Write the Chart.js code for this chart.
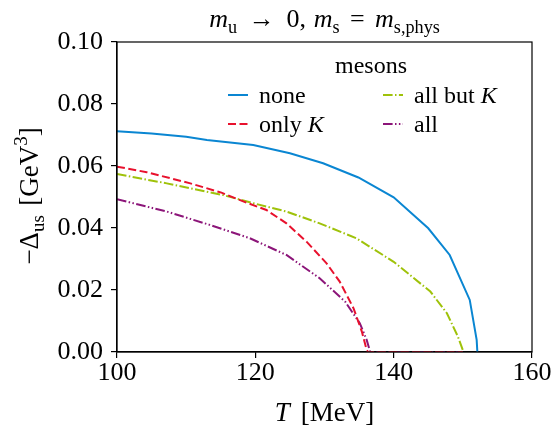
<!DOCTYPE html>
<html>
<head>
<meta charset="utf-8">
<script src="https://cdn.jsdelivr.net/npm/chart.js@4"></script>
<style>
  html, body { margin: 0; padding: 0; background: #fff; }
  #wrap { width: 553px; height: 431px; }
</style>
</head>
<body>
<div id="wrap"><canvas id="myChart" width="553" height="431"></canvas></div>
<script>
const FONT = "'Liberation Serif', serif";

// temperatures (MeV) and -Delta_us (GeV^3)
const T_NONE = [100, 105, 110, 113, 119.7, 125, 129.8, 134.9, 140, 145, 148.1, 151, 152, 152.1];
const V_NONE = [0.0712, 0.0705, 0.0694, 0.0684, 0.0668, 0.0641, 0.0609, 0.0563, 0.0499, 0.0399, 0.0313, 0.0168, 0.0039, 0.0];

const T_ONLYK = [100, 104.3, 110.6, 115.1, 118.7, 121.6, 124.5, 127.4, 130.3, 132.2, 134.2, 135.4, 136.1, 136.3, 150];
const V_ONLYK = [0.0598, 0.0580, 0.0544, 0.0514, 0.0482, 0.0458, 0.0415, 0.0356, 0.0286, 0.0227, 0.0141, 0.0066, 0.0006, 0.0, 0.0];

const T_ALLBUTK = [100, 107.2, 115.4, 119.7, 124.5, 129.3, 134.6, 140, 145.3, 147.7, 149.3, 150, 150.1];
const V_ALLBUTK = [0.0574, 0.0544, 0.0506, 0.0480, 0.0453, 0.0415, 0.0367, 0.0291, 0.0195, 0.0125, 0.0049, 0.0006, 0.0];

const T_ALL = [100, 107.2, 113.4, 119.2, 124.5, 129.3, 133, 135.1, 136.1, 136.6, 150];
const V_ALL = [0.0493, 0.0453, 0.0410, 0.0367, 0.0313, 0.0238, 0.0162, 0.0093, 0.0039, 0.0, 0.0];

const X_TICKS = [100, 120, 140, 160];
const Y_TICKS = [0.00, 0.02, 0.04, 0.06, 0.08, 0.10];

function pts(xs, ys) { return xs.map((x, i) => ({x: x, y: ys[i]})); }

const series = [
  {label: 'none',      parts: [{t: 'none'}],                          xs: T_NONE,    ys: V_NONE,    color: '#0a86d2', dash: []},
  {label: 'only K',    parts: [{t: 'only '}, {t: 'K', it: true}],      xs: T_ONLYK,   ys: V_ONLYK,   color: '#e8112d', dash: [8, 3.5]},
  {label: 'all but K', parts: [{t: 'all but '}, {t: 'K', it: true}],   xs: T_ALLBUTK, ys: V_ALLBUTK, color: '#9fc20a', dash: [9.6, 2.4, 1.5, 2.4]},
  {label: 'all',       parts: [{t: 'all'}],                           xs: T_ALL,     ys: V_ALL,     color: '#8c1579', dash: [9.6, 2.4, 1.5, 2.4, 1.5, 2.4]}
];

// rich text helper: parts {t, it, sub, sup, gap}
function setFont(ctx, p, size) {
  const s = (p.sub || p.sup) ? size * 0.7 : size;
  ctx.font = (p.it ? 'italic ' : '') + s + 'px ' + FONT;
  return s;
}
function partWidth(ctx, p, size) {
  setFont(ctx, p, size);
  return ctx.measureText(p.t).width + (p.gap || 0) * size;
}
function drawRich(ctx, parts, x, y, size, align) {
  let w = 0;
  parts.forEach(p => { w += partWidth(ctx, p, size); });
  let cx = align === 'center' ? x - w / 2 : x;
  ctx.textBaseline = 'alphabetic';
  ctx.textAlign = 'left';
  ctx.fillStyle = '#000';
  parts.forEach(p => {
    setFont(ctx, p, size);
    let dy = p.sub ? size * 0.22 : (p.sup ? -size * 0.4 : 0);
    ctx.fillText(p.t, cx, y + dy);
    cx += partWidth(ctx, p, size);
  });
}

const decor = {
  id: 'decor',
  afterDraw(chart) {
    const ctx = chart.ctx;
    const a = chart.chartArea;
    ctx.save();
    // frame
    ctx.strokeStyle = '#000';
    ctx.lineWidth = 1.2;
    ctx.strokeRect(a.left, a.top, a.right - a.left, a.bottom - a.top);

    // title
    drawRich(ctx, [
      {t: 'm', it: true}, {t: 'u', sub: true, gap: 0.45}, {t: '\u2192', gap: 0.45}, {t: '0,', gap: 0.3},
      {t: 'm', it: true}, {t: 's', sub: true, gap: 0.4}, {t: '=', gap: 0.4},
      {t: 'm', it: true}, {t: 's,phys', sub: true}
    ], (a.left + a.right) / 2, 27, 26, 'center');

    // axis titles
    drawRich(ctx, [{t: 'T', it: true, gap: 0.15}, {t: ' [MeV]'}], (a.left + a.right) / 2, 421, 27, 'center');
    ctx.save();
    ctx.translate(38, 196);
    ctx.rotate(-Math.PI / 2);
    drawRich(ctx, [{t: '\u2212\u0394'}, {t: 'us', sub: true, gap: 0.1}, {t: ' [GeV'}, {t: '3', sup: true}, {t: ']'}], 0, 0, 27, 'center');
    ctx.restore();

    // legend
    drawRich(ctx, [{t: 'mesons'}], 371, 73, 24, 'center');
    const cols = [228, 383];
    const rows = [103, 132];
    series.forEach((s, i) => {
      const x = cols[Math.floor(i / 2)];
      const y = rows[i % 2];
      ctx.save();
      ctx.strokeStyle = s.color;
      ctx.lineWidth = 2;
      ctx.setLineDash(s.dash);
      ctx.beginPath();
      ctx.moveTo(x, y - 8);
      ctx.lineTo(x + 20, y - 8);
      ctx.stroke();
      ctx.restore();
      drawRich(ctx, s.parts, x + 31, y, 24, 'left');
    });
    ctx.restore();
  }
};

const ctx = document.getElementById('myChart').getContext('2d');
const myChart = new Chart(ctx, {
  type: 'line',
  data: {
    datasets: series.map(s => ({
      label: s.label,
      data: pts(s.xs, s.ys),
      borderColor: s.color,
      backgroundColor: s.color,
      borderWidth: 2,
      borderDash: s.dash,
      pointRadius: 0,
      tension: 0,
      fill: false
    }))
  },
  options: {
    responsive: false,
    animation: false,
    layout: {padding: {top: 42, right: 21, left: 0, bottom: 0}},
    plugins: {legend: {display: false}, tooltip: {enabled: false}},
    scales: {
      x: {
        type: 'linear',
        min: 100, max: 160,
        afterFit(scale) { scale.height = 79; },
        afterBuildTicks(scale) { scale.ticks = X_TICKS.map(v => ({value: v})); },
        grid: {drawOnChartArea: false, drawTicks: true, tickLength: 6, color: '#000', lineWidth: 1.2},
        border: {display: true, color: '#000', width: 1.2},
        ticks: {color: '#000', font: {family: FONT, size: 26}, padding: 0, maxRotation: 0}
      },
      y: {
        type: 'linear',
        min: 0, max: 0.1,
        afterFit(scale) { scale.width = 117; },
        afterBuildTicks(scale) { scale.ticks = Y_TICKS.map(v => ({value: v})); },
        grid: {drawOnChartArea: false, drawTicks: true, tickLength: 6, color: '#000', lineWidth: 1.2},
        border: {display: true, color: '#000', width: 1.2},
        ticks: {color: '#000', font: {family: FONT, size: 26}, padding: 8, callback: v => v.toFixed(2)}
      }
    }
  },
  plugins: [decor]
});
</script>
</body>
</html>
